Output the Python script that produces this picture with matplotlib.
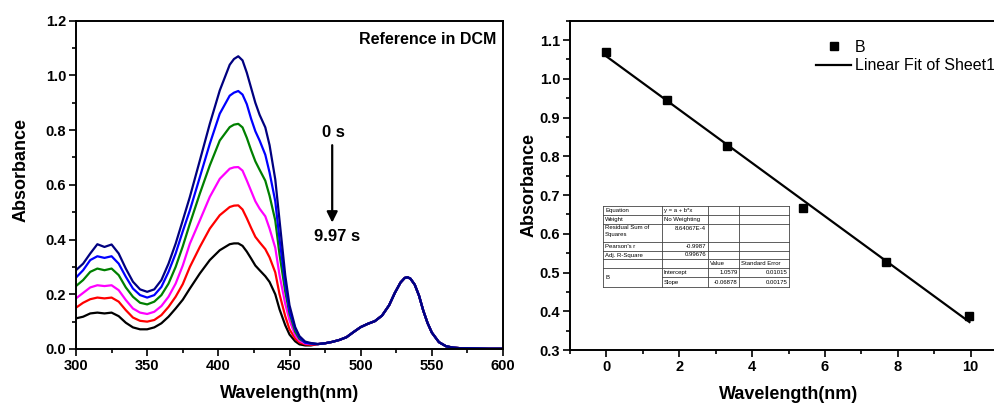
import matplotlib
matplotlib.use("Agg")
import matplotlib.pyplot as plt
import numpy as np
from matplotlib.ticker import MultipleLocator, FormatStrFormatter

plt.rcParams['font.family'] = ['Liberation Sans', 'DejaVu Sans']

# ---------------- data: left panel (UV-vis spectra) ----------------
wl_uv = [300, 305, 310, 315, 320, 325, 330, 335, 340, 345, 350, 355, 360, 365, 370, 375,
         380, 387, 394, 401, 408, 411, 414, 417, 420, 423, 426, 429, 433, 436, 440, 443,
         447, 450, 454, 457, 461, 465]
abs_navy = [0.288, 0.312, 0.349, 0.383, 0.373, 0.382, 0.349, 0.294, 0.246, 0.218, 0.209, 0.218,
            0.252, 0.312, 0.385, 0.470, 0.556, 0.689, 0.823, 0.945, 1.039, 1.060, 1.070, 1.055,
            1.010, 0.955, 0.900, 0.856, 0.810, 0.745, 0.620, 0.470, 0.270, 0.160, 0.080, 0.047,
            0.027, 0.022]
abs_blue = [0.261, 0.288, 0.325, 0.339, 0.333, 0.339, 0.312, 0.264, 0.221, 0.197, 0.188, 0.197,
            0.227, 0.282, 0.349, 0.430, 0.507, 0.628, 0.750, 0.860, 0.926, 0.937, 0.943, 0.930,
            0.895, 0.842, 0.796, 0.762, 0.710, 0.645, 0.540, 0.400, 0.240, 0.140, 0.075, 0.043,
            0.023, 0.020]
abs_green = [0.230, 0.252, 0.282, 0.294, 0.288, 0.294, 0.270, 0.225, 0.191, 0.169, 0.163, 0.173,
             0.197, 0.239, 0.300, 0.375, 0.458, 0.568, 0.671, 0.762, 0.811, 0.820, 0.823, 0.810,
             0.772, 0.727, 0.686, 0.655, 0.615, 0.560, 0.470, 0.345, 0.210, 0.130, 0.063, 0.037,
             0.024, 0.020]
abs_magenta = [0.185, 0.205, 0.225, 0.233, 0.230, 0.233, 0.215, 0.179, 0.148, 0.133, 0.128, 0.136,
               0.157, 0.191, 0.239, 0.305, 0.385, 0.470, 0.556, 0.622, 0.659, 0.664, 0.665, 0.652,
               0.616, 0.578, 0.540, 0.513, 0.485, 0.440, 0.370, 0.270, 0.165, 0.105, 0.050, 0.030,
               0.020, 0.018]
abs_red = [0.151, 0.169, 0.182, 0.188, 0.185, 0.188, 0.173, 0.142, 0.115, 0.103, 0.100, 0.106,
           0.124, 0.154, 0.191, 0.237, 0.300, 0.373, 0.440, 0.489, 0.519, 0.524, 0.525, 0.510,
           0.478, 0.443, 0.410, 0.390, 0.365, 0.335, 0.280, 0.200, 0.120, 0.072, 0.038, 0.024,
           0.017, 0.015]
abs_black = [0.112, 0.118, 0.130, 0.133, 0.130, 0.133, 0.120, 0.096, 0.079, 0.072, 0.072, 0.079,
             0.094, 0.118, 0.148, 0.180, 0.221, 0.276, 0.325, 0.361, 0.383, 0.386, 0.386, 0.377,
             0.356, 0.331, 0.305, 0.288, 0.266, 0.245, 0.200, 0.145, 0.087, 0.053, 0.028, 0.017,
             0.013, 0.013]
# Q-band region, identical for all spectra
wl_tail = [470, 475, 480, 485, 490, 495, 500, 505, 510, 515, 520, 524, 528, 531, 533, 535,
           538, 541, 544, 547, 550, 555, 560, 565, 570, 580, 590, 600]
abs_tail = [0.018, 0.021, 0.026, 0.033, 0.043, 0.062, 0.080, 0.092, 0.102, 0.122, 0.160, 0.205,
            0.243, 0.260, 0.262, 0.257, 0.235, 0.195, 0.140, 0.095, 0.060, 0.025, 0.010, 0.005,
            0.003, 0.002, 0.001, 0.001]

spectra = [abs_black, abs_red, abs_magenta, abs_green, abs_blue, abs_navy]
spec_colors = ['#000000', '#FF0000', '#FF00FF', '#008000', '#0000FF', '#000080']

# ---------------- data: right panel (linear fit) ----------------
time_s = [0.0, 1.66, 3.32, 5.40, 7.68, 9.97]
abs_peak = [1.070, 0.945, 0.827, 0.667, 0.527, 0.389]
fit_intercept = 1.0579
fit_slope = -0.06878

table_rows = [
    ["Equation", "y = a + b*x", "", ""],
    ["Weight", "No Weighting", "", ""],
    ["Residual Sum of\nSquares", "8.64067E-4", "", ""],
    ["Pearson's r", "-0.9987", "", ""],
    ["Adj. R-Square", "0.99676", "", ""],
    ["", "", "Value", "Standard Error"],
    ["B", "Intercept", "1.0579", "0.01015"],
    ["", "Slope", "-0.06878", "0.00175"],
]

W, H = 995, 403
fig = plt.figure(figsize=(W / 100, H / 100), dpi=100)


def fx(px):
    return px / W


def fy(py):
    return 1 - py / H


def style_axes(ax):
    for s in ax.spines.values():
        s.set_linewidth(1.4)
    ax.tick_params(which='both', direction='out', top=False, right=False, width=1.2)
    ax.tick_params(which='major', length=5, labelsize=10.5, pad=2)
    ax.tick_params(which='minor', length=3)
    for lbl in ax.get_xticklabels() + ax.get_yticklabels():
        lbl.set_fontweight('bold')


# ---------------- left panel ----------------
ax1 = fig.add_axes([fx(76), fy(349), fx(503 - 76), (349 - 20.7) / H])
for vals, c in zip(spectra, spec_colors):
    x = list(wl_uv) + list(wl_tail)
    y = list(vals) + list(abs_tail)
    ax1.plot(x, y, color=c, lw=1.6, solid_joinstyle='round')
ax1.set_xlim(300, 600)
ax1.set_ylim(0, 1.2)
ax1.xaxis.set_major_locator(MultipleLocator(50))
ax1.xaxis.set_minor_locator(MultipleLocator(25))
ax1.yaxis.set_major_locator(MultipleLocator(0.2))
ax1.yaxis.set_minor_locator(MultipleLocator(0.1))
ax1.yaxis.set_major_formatter(FormatStrFormatter('%.1f'))
style_axes(ax1)
ax1.set_xlabel('Wavelength(nm)', fontsize=13, fontweight='bold', labelpad=9)
ax1.set_ylabel('Absorbance', fontsize=13, fontweight='bold')
ax1.yaxis.set_label_coords(-0.108, 0.545)
ax1.text(595, 1.133, 'Reference in DCM', ha='right', va='center', fontsize=11.5, fontweight='bold')
ax1.text(480.6, 0.792, '0 s', ha='center', va='center', fontsize=12, fontweight='bold')
ax1.text(483.6, 0.41, '9.97 s', ha='center', va='center', fontsize=12, fontweight='bold')
ax1.annotate('', xy=(480, 0.462), xytext=(480, 0.745),
             arrowprops=dict(arrowstyle='-|>', lw=1.6, color='black', mutation_scale=16,
                             shrinkA=0, shrinkB=0))

# ---------------- right panel ----------------
ax2 = fig.add_axes([fx(570), fy(350), fx(1007 - 570), (350 - 20.7) / H])
ax2.plot(time_s, abs_peak, 's', color='black', ms=5.6, label='B', zorder=3)
tx = np.array([time_s[0], time_s[-1]])
ax2.plot(tx, fit_intercept + fit_slope * tx, '-', color='black', lw=1.6,
         label='Linear Fit of Sheet1 B', zorder=2)
ax2.set_xlim(-1, 11)
ax2.set_ylim(0.3, 1.15)
ax2.xaxis.set_major_locator(MultipleLocator(2))
ax2.xaxis.set_minor_locator(MultipleLocator(1))
ax2.yaxis.set_major_locator(MultipleLocator(0.1))
ax2.yaxis.set_minor_locator(MultipleLocator(0.05))
ax2.yaxis.set_major_formatter(FormatStrFormatter('%.1f'))
style_axes(ax2)
ax2.set_xlabel('Wavelength(nm)', fontsize=13, fontweight='bold', labelpad=9)
ax2.set_ylabel('Absorbance', fontsize=13, fontweight='bold')
ax2.yaxis.set_label_coords(-0.075, 0.501)
ax2.legend(loc='upper left', bbox_to_anchor=(fx(816), fy(40)), bbox_transform=fig.transFigure,
           frameon=False, fontsize=11.5, handlelength=2.2, handletextpad=0.25,
           labelspacing=0.2, borderpad=0, borderaxespad=0)

# ---------------- fit table ----------------
tab = fig.add_axes([fx(603), fy(287), fx(790 - 603), 81 / H])
tab.set_xlim(0, 187)
tab.set_ylim(81, 0)
tab.axis('off')
cols = [0, 59, 105, 136.5, 186.5]
rows = [0, 9, 18, 35.7, 44.7, 53.3, 62.3, 71.3, 81]
lc = '#444444'
for xc in cols:
    tab.plot([xc, xc], [0, 81], color=lc, lw=0.6, clip_on=False)
for i, yr in enumerate(rows):
    x0 = 59 if i == 7 else 0
    tab.plot([x0, 186.5], [yr, yr], color=lc, lw=0.6, clip_on=False)
fs = 4.3
for i, row in enumerate(table_rows):
    top, bot = rows[i], rows[i + 1]
    for j, txt in enumerate(row):
        if not txt:
            continue
        left, right = cols[j], cols[j + 1]
        if j == 0 and txt == 'B':
            tab.text(left + 2, (rows[6] + rows[8]) / 2, txt, fontsize=fs, va='center', ha='left')
            continue
        if '\n' in txt:
            tab.text(left + 2, top + 1.2, txt, fontsize=fs, va='top', ha='left', linespacing=1.5)
            continue
        numeric = txt[0].isdigit() or txt[0] == '-'
        yy = (top + 4.5) if i == 2 else (top + bot) / 2
        if numeric:
            tab.text(right - 2, yy, txt, fontsize=fs, va='center', ha='right')
        else:
            tab.text(left + 2, yy, txt, fontsize=fs, va='center', ha='left')

fig.savefig('out.png', dpi=100)
